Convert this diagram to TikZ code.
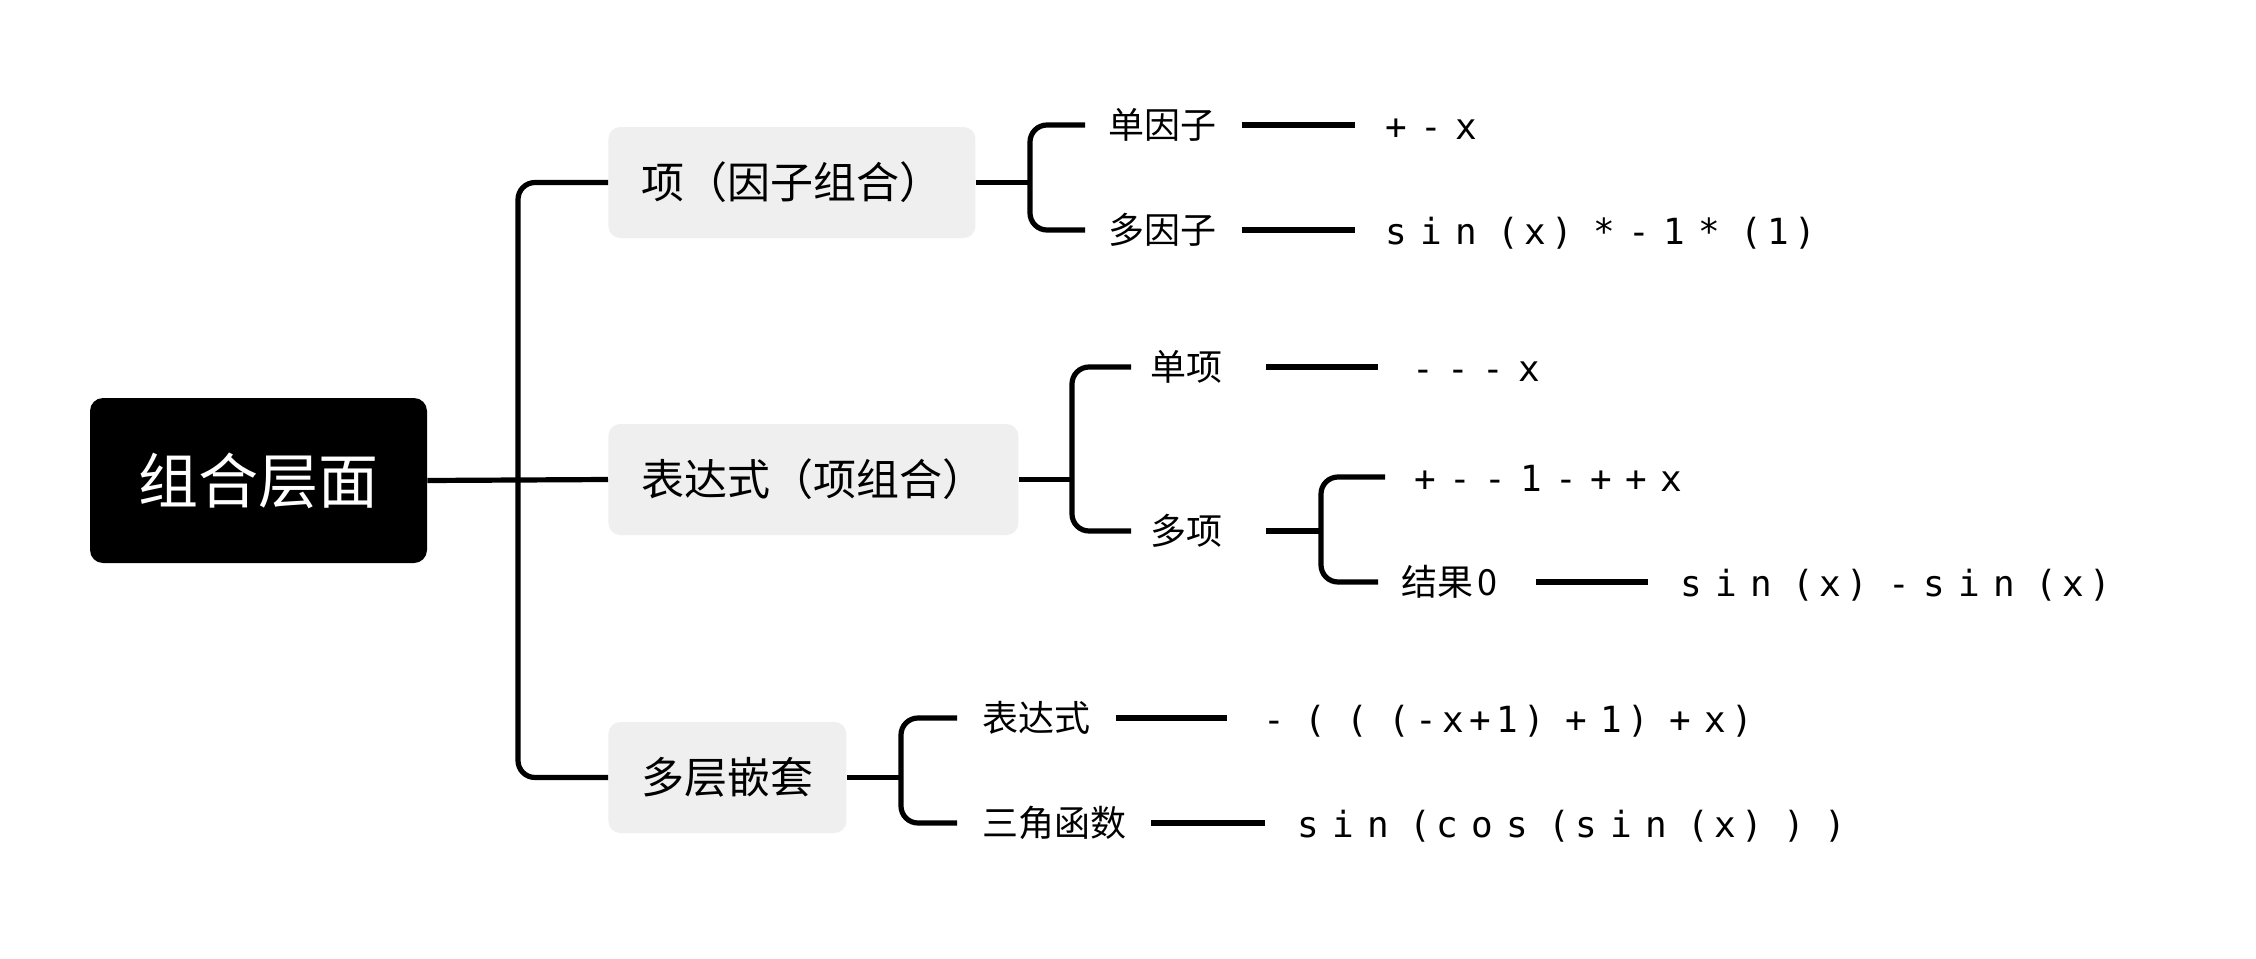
\documentclass[tikz,border=0pt]{standalone}
\usepackage{fontspec}
\setmainfont{Noto Sans CJK SC}
\newfontfamily\cjk{Noto Sans CJK SC}
\newfontfamily\mono[LetterSpace=15,WordSpace=0.5]{DejaVu Sans Mono}
\newcommand\Lpar{\kern3.2pt(}
\newcommand\Rpar{)\kern3.2pt}
\definecolor{boxgray}{HTML}{EFEFEF}
\begin{document}
\begin{tikzpicture}[x=0.5pt,y=-0.5pt,
  rootbox/.style={fill=black,text=white,rounded corners=6.5pt,minimum width=168.5pt,minimum height=82.5pt,inner sep=0pt,
    font=\cjk\fontsize{30pt}{36pt}\selectfont,text height=26.4pt,text depth=3.6pt},
  topic/.style={fill=boxgray,rounded corners=6pt,minimum height=55.5pt,inner xsep=16.5pt,inner ysep=0pt,anchor=west,
    font=\cjk\fontsize{21.5pt}{26pt}\selectfont,text height=18.9pt,text depth=2.6pt},
  lbl/.style={anchor=west,inner sep=0pt,font=\cjk\fontsize{18pt}{22pt}\selectfont,text height=15.8pt,text depth=2.2pt},
  fml/.style={anchor=west,inner sep=0pt,font=\mono\fontsize{18pt}{22pt}\selectfont,text height=16.5pt,text depth=2.5pt},
  conn/.style={line width=2.6pt,rounded corners=8.5pt},
  leafline/.style={line width=3.2pt}
]
\fill[white] (0,0) rectangle (2256,959);
\useasboundingbox (0,0) rectangle (2256,959);

% main nodes
\node[rootbox] (root) at (258.5,480.5) {组合层面};
\node[topic] (t1) at (608,182.5) {项（因子组合）};
\node[topic] (t2) at (608,479.5) {表达式（项组合）};
\node[topic] (t3) at (608,777.5) {多层嵌套};

% junctions
\coordinate (j0) at (518,480.5);
\coordinate (b1) at (1030,182.5);
\coordinate (b2) at (1072,479.5);
\coordinate (b22) at (1321,531);
\coordinate (b3) at (901,777.5);

% leaf labels
\node[lbl] (c11) at (1108,125) {单因子};
\node[lbl] (c12) at (1108,230) {多因子};
\node[lbl] (c21) at (1150,367) {单项};
\node[lbl] (c22) at (1150,531) {多项};
\node[lbl] (c222) at (1401,582) {结果\kern2pt0};
\node[lbl] (c31) at (982,718) {表达式};
\node[lbl] (c32) at (982,823) {三角函数};

% formulas
\node[fml] (f11) at (1385,125) {+ - x};
\node[fml] (f12) at (1385,230) {s i n \Lpar x\Rpar{} * - 1 * \Lpar 1\Rpar};
\node[fml] (f21) at (1412,367) {- - - x};
\node[fml] (f221) at (1414,477) {+ - - 1 - + + x};
\node[fml] (f222) at (1680,582) {s i n \Lpar x\Rpar{} - s i n \Lpar x\Rpar};
\node[fml] (f31) at (1263,718) {- \Lpar{} \Lpar{} \Lpar -x+1\Rpar{} + 1\Rpar{} + x\Rpar};
\node[fml] (f32) at (1297,823) {s i n \Lpar c o s \Lpar s i n \Lpar x\Rpar{} \Rpar{} \Rpar};

% trunk
\draw[conn] (root.east) -- (t2.west);
\draw[conn] (t1.west) -| (j0) |- (t3.west);

% bracket 1
\draw[conn] (t1.east) -- (b1);
\draw[conn,shorten <=11.5pt,shorten >=11.5pt] (c11.west) -| (b1) |- (c12.west);
\draw[leafline,shorten <=12.5pt,shorten >=15pt] (c11.east) -- (f11.west);
\draw[leafline,shorten <=12.5pt,shorten >=15pt] (c12.east) -- (f12.west);

% bracket 2
\draw[conn] (t2.east) -- (b2);
\draw[conn,shorten <=9.5pt,shorten >=9.5pt] (c21.west) -| (b2) |- (c22.west);
\draw[leafline,shorten <=21.5pt,shorten >=17pt] (c21.east) -- (f21.west);
\draw[leafline,shorten <=21.5pt] (c22.east) -- (b22);
\draw[conn,shorten <=14.5pt,shorten >=11.5pt] (f221.west) -| (b22) |- (c222.west);
\draw[leafline,shorten <=19pt,shorten >=16pt] (c222.east) -- (f222.west);

% bracket 3
\draw[conn] (t3.east) -- (b3);
\draw[conn,shorten <=12.5pt,shorten >=12.5pt] (c31.west) -| (b3) |- (c32.west);
\draw[leafline,shorten <=12.5pt,shorten >=18pt] (c31.east) -- (f31.west);
\draw[leafline,shorten <=12pt,shorten >=16pt] (c32.east) -- (f32.west);
\end{tikzpicture}
\end{document}
